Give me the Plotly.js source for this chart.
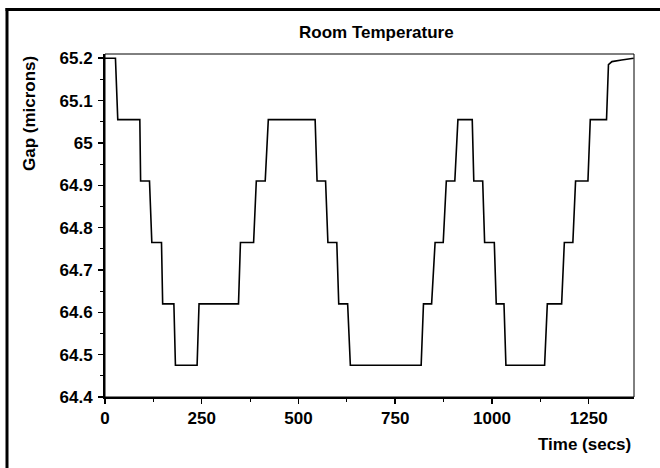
<!DOCTYPE html>
<html>
<head>
<meta charset="utf-8">
<script src="https://cdn.plot.ly/plotly-3.0.1.min.js"></script>
<style>
html,body{margin:0;padding:0;background:#fff;}
#chart{width:660px;height:468px;}
</style>
</head>
<body>
<div id="chart"></div>
<script>
// ---- data ----
const timeSecs = [0, 27, 33, 90, 92, 115, 121, 146, 149, 178, 182, 238, 243, 345, 350, 384, 391, 414, 422,
  543, 548, 570, 576, 599, 604, 627, 634, 817, 823, 844, 853, 874, 882, 904, 912,
  949, 953, 976, 981, 1006, 1011, 1031, 1036, 1136, 1143, 1180, 1187, 1209, 1216, 1248, 1254,
  1296, 1301, 1310, 1335, 1366];
const gapMicrons = [65.2, 65.2, 65.055, 65.055, 64.91, 64.91, 64.765, 64.765, 64.62, 64.62, 64.475, 64.475, 64.62, 64.62, 64.765, 64.765, 64.91, 64.91, 65.055,
  65.055, 64.91, 64.91, 64.765, 64.765, 64.62, 64.62, 64.475, 64.475, 64.62, 64.62, 64.765, 64.765, 64.91, 64.91, 65.055,
  65.055, 64.91, 64.91, 64.765, 64.765, 64.62, 64.62, 64.475, 64.475, 64.62, 64.62, 64.765, 64.765, 64.91, 64.91, 65.055,
  65.055, 65.185, 65.192, 65.196, 65.2];
const xTickVals = [0, 250, 500, 750, 1000, 1250];
const xTickText = ['0', '250', '500', '750', '1000', '1250'];
const yTickVals = [64.4, 64.5, 64.6, 64.7, 64.8, 64.9, 65.0, 65.1, 65.2];
const yTickText = ['64.4', '64.5', '64.6', '64.7', '64.8', '64.9', '65', '65.1', '65.2'];
const chartTitle = 'Room Temperature';
const xTitle = 'Time (secs)';
const yTitle = 'Gap (microns)';

// ---- layout geometry ----
const W = 660, H = 468;
const M = {l: 105, r: 26, t: 54, b: 71};
const pw = W - M.l - M.r, ph = H - M.t - M.b;
const px = v => (v - M.l) / pw;          // pixel x -> paper x
const py = v => (H - M.b - v) / ph;      // pixel y -> paper y
const FONT = 'Liberation Sans, Arial, sans-serif';

const trace = {
  x: timeSecs, y: gapMicrons, type: 'scatter', mode: 'lines',
  line: {color: '#000', width: 1.6}, hoverinfo: 'skip'
};

const axisCommon = {
  showgrid: false, zeroline: false, showline: true, linecolor: '#000', linewidth: 2,
  ticks: 'outside', ticklen: 5, tickwidth: 1.5, tickcolor: '#000',
  tickfont: {family: FONT, size: 17, color: '#000', weight: 'bold'},
  tickmode: 'array'
};

const layout = {
  width: W, height: H, margin: M, showlegend: false,
  paper_bgcolor: '#fff', plot_bgcolor: '#fff',
  font: {family: FONT, color: '#000'},
  xaxis: Object.assign({}, axisCommon, {
    range: [0, 1367], tickvals: xTickVals, ticktext: xTickText,
    minor: {dtick: 125, tick0: 0, ticks: 'outside', ticklen: 3, tickwidth: 1, tickcolor: '#000'}
  }),
  yaxis: Object.assign({}, axisCommon, {
    range: [64.4, 65.21], tickvals: yTickVals, ticktext: yTickText, ticklabelstandoff: 2,
    minor: {dtick: 0.05, tick0: 64.4, ticks: 'outside', ticklen: 3, tickwidth: 1, tickcolor: '#000'}
  }),
  annotations: [
    {text: '<b>' + chartTitle + '</b>', xref: 'paper', yref: 'paper', x: px(376.5), y: py(33),
     xanchor: 'center', yanchor: 'middle', showarrow: false, font: {family: FONT, size: 17, color: '#000'}},
    {text: '<b>' + xTitle + '</b>', xref: 'paper', yref: 'paper', x: px(633), y: py(444.5),
     xanchor: 'right', yanchor: 'middle', showarrow: false, font: {family: FONT, size: 17, color: '#000'}},
    {text: '<b>' + yTitle + '</b>', xref: 'paper', yref: 'paper', x: px(29), y: py(114), textangle: -90,
     xanchor: 'center', yanchor: 'middle', showarrow: false, font: {family: FONT, size: 17, color: '#000'}}
  ],
  shapes: [
    {type: 'rect', xref: 'paper', yref: 'paper', x0: 0, x1: 1, y0: 0, y1: 1,
     line: {color: '#000', width: 1}, layer: 'above'},
    {type: 'line', xref: 'paper', yref: 'paper', x0: px(7), x1: px(7), y0: py(8), y1: py(470),
     line: {color: '#000', width: 3}},
    {type: 'line', xref: 'paper', yref: 'paper', x0: px(5.5), x1: px(662), y0: py(9.5), y1: py(9.5),
     line: {color: '#000', width: 3}}
  ]
};

Plotly.newPlot('chart', [trace], layout, {staticPlot: true, displayModeBar: false});
</script>
</body>
</html>
